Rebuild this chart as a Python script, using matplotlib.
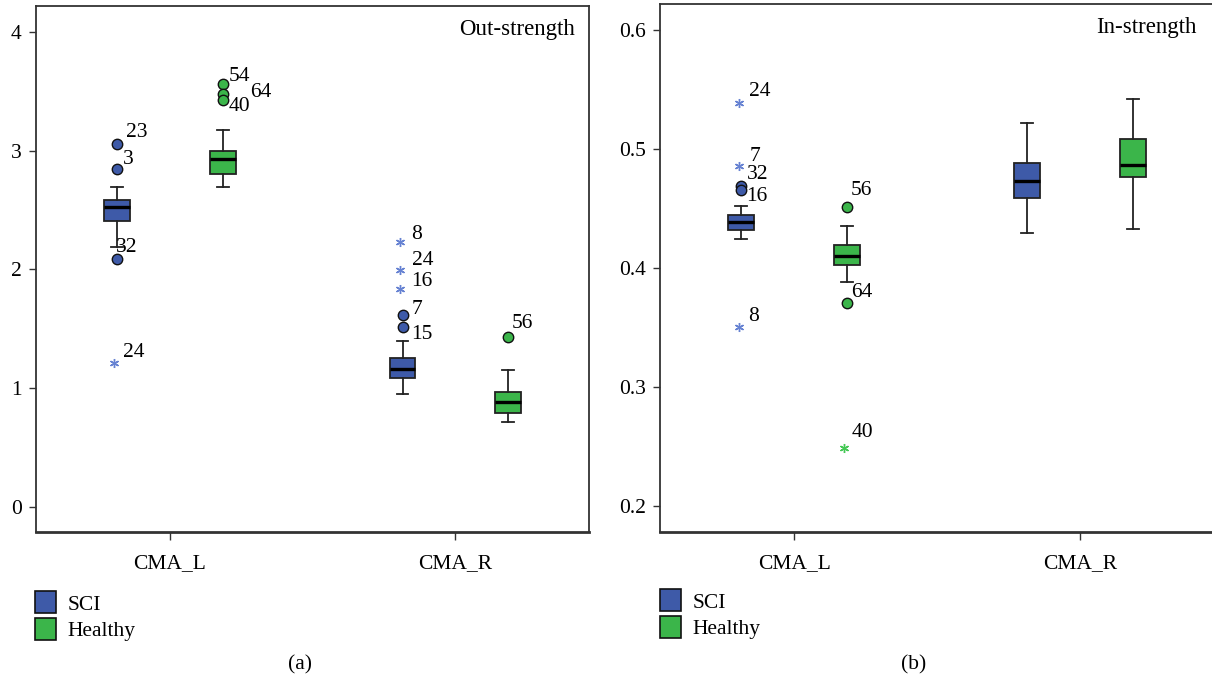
import matplotlib
matplotlib.use('Agg')
import matplotlib.pyplot as plt
from matplotlib.patches import Patch

plt.rcParams['font.family'] = ['Liberation Serif', 'DejaVu Serif']

groups = ['CMA_L', 'CMA_R']
series = ['SCI', 'Healthy']

# 五数概括: 下须, Q1, 中位数, Q3, 上须
out_sci = [[2.192, 2.409, 2.527, 2.580, 2.689], [0.951, 1.088, 1.164, 1.257, 1.400]]
out_healthy = [[2.689, 2.805, 2.925, 2.998, 3.175], [0.713, 0.791, 0.881, 0.971, 1.151]]
in_sci = [[0.4247, 0.4323, 0.4385, 0.4449, 0.4524], [0.4291, 0.4586, 0.4732, 0.4884, 0.5215]]
in_healthy = [[0.3883, 0.4026, 0.4104, 0.4197, 0.4354], [0.4332, 0.4764, 0.4862, 0.5084, 0.5418]]

# 离群值(圆点)和极端值(星号)，以及编号
out_sci_circ = [[3.057, 2.844, 2.091], [1.614, 1.516]]
out_sci_circ_id = [[23, 3, 32], [7, 15]]
out_sci_star = [[1.210], [2.229, 1.996, 1.838]]
out_sci_star_id = [[24], [8, 24, 16]]
out_healthy_circ = [[3.560, 3.479, 3.422], [1.431]]
out_healthy_circ_id = [[54, 64, 40], [56]]
out_healthy_star = [[], []]
out_healthy_star_id = [[], []]

in_sci_circ = [[0.4690, 0.4656], []]
in_sci_circ_id = [[32, 16], []]
in_sci_star = [[0.5389, 0.4855, 0.3505], []]
in_sci_star_id = [[24, 7, 8], []]
in_healthy_circ = [[0.4516, 0.3707], []]
in_healthy_circ_id = [[56, 64], []]
in_healthy_star = [[0.2491], []]
in_healthy_star_id = [[40], []]

# 编号文字的偏移(像素)
out_sci_circ_off = [[(9, 11), (6, 10), (-1, 11)], [(9, 6), (9, -8)]]
out_sci_star_off = [[(6, 11)], [(9, 8), (9, 9), (9, 7)]]
out_healthy_circ_off = [[(6, 8), (28, 1), (6, -6)], [(4, 13)]]
out_healthy_star_off = [[], []]
in_sci_circ_off = [[(5, 11), (5, -7)], []]
in_sci_star_off = [[(8, 11), (8, 10), (7, 11)], []]
in_healthy_circ_off = [[(4, 16), (4, 10)], []]
in_healthy_star_off = [[(5, 15)], []]

box_colors = ['#3e5aa8', '#3bb54a']
star_colors = ['#6682d2', '#44c854']
shift = [-0.185, 0.185]
fs = 15.5


def draw_panel(ax, stats_list, circ_list, circ_ids, circ_offs, star_list, star_ids, star_offs):
    for k in range(2):
        pos = [i + shift[k] for i in range(len(groups))]
        stats = []
        for s in stats_list[k]:
            stats.append({'whislo': s[0], 'q1': s[1], 'med': s[2], 'q3': s[3], 'whishi': s[4], 'fliers': []})
        ax.bxp(stats, positions=pos, widths=0.091, capwidths=0.042, patch_artist=True, showfliers=False,
               boxprops=dict(facecolor=box_colors[k], edgecolor='#222222', linewidth=1.3),
               medianprops=dict(color='black', linewidth=2.4),
               whiskerprops=dict(color='#222222', linewidth=1.3),
               capprops=dict(color='#222222', linewidth=1.3))
        for i in range(len(groups)):
            xs = pos[i]
            for v, n, off in zip(circ_list[k][i], circ_ids[k][i], circ_offs[k][i]):
                ax.plot(xs, v, 'o', ms=7.5, mfc=box_colors[k], mec='#111111', mew=1.0, zorder=4)
                ax.annotate(str(n), (xs, v), xytext=off, textcoords='offset pixels',
                            ha='left', va='center', fontsize=fs)
            for v, n, off in zip(star_list[k][i], star_ids[k][i], star_offs[k][i]):
                ax.plot(xs - 0.01, v, marker=(6, 2, 0), ms=6.5, color=star_colors[k], mew=1.0, ls='none', zorder=4)
                ax.annotate(str(n), (xs, v), xytext=off, textcoords='offset pixels',
                            ha='left', va='center', fontsize=fs)
    ax.set_xlim(-0.47, 1.468)
    ax.set_xticks(range(len(groups)))
    ax.set_xticklabels(groups, fontsize=fs)
    ax.tick_params(axis='x', length=6, width=1, pad=10, color='#333333')
    ax.tick_params(axis='y', length=5, width=1, pad=5, labelsize=fs, color='#333333')
    for sp in ax.spines.values():
        sp.set_color('#333333')
        sp.set_linewidth(1.3)
    ax.spines['bottom'].set_linewidth(2)


fig = plt.figure(figsize=(12.12, 6.8), dpi=100)
W, H = 1212, 680
ax1 = fig.add_axes([35.5 / W, 1 - 532 / H, 553.5 / W, 526.5 / H])
ax2 = fig.add_axes([660 / W, 1 - 531.7 / H, 553.5 / W, 527.7 / H])

draw_panel(ax1, [out_sci, out_healthy],
           [out_sci_circ, out_healthy_circ], [out_sci_circ_id, out_healthy_circ_id],
           [out_sci_circ_off, out_healthy_circ_off],
           [out_sci_star, out_healthy_star], [out_sci_star_id, out_healthy_star_id],
           [out_sci_star_off, out_healthy_star_off])
ax1.set_ylim(-0.211, 4.221)
ax1.set_yticks([0, 1, 2, 3, 4])
ax1.text(0.975, 0.955, 'Out-strength', transform=ax1.transAxes, ha='right', va='center', fontsize=16.5)

draw_panel(ax2, [in_sci, in_healthy],
           [in_sci_circ, in_healthy_circ], [in_sci_circ_id, in_healthy_circ_id],
           [in_sci_circ_off, in_healthy_circ_off],
           [in_sci_star, in_healthy_star], [in_sci_star_id, in_healthy_star_id],
           [in_sci_star_off, in_healthy_star_off])
ax2.set_ylim(0.1786, 0.6218)
ax2.set_yticks([0.2, 0.3, 0.4, 0.5, 0.6])
ax2.set_yticklabels(['0.2', '0.3', '0.4', '0.5', '0.6'])
ax2.text(0.97, 0.955, 'In-strength', transform=ax2.transAxes, ha='right', va='center', fontsize=16.5)

handles = [Patch(facecolor=box_colors[0], edgecolor='#111111', linewidth=1.2),
           Patch(facecolor=box_colors[1], edgecolor='#111111', linewidth=1.2)]
for x0, y0 in [(31 / W, 1 - 587 / H), (656 / W, 1 - 585 / H)]:
    fig.legend(handles, series, loc='upper left', bbox_to_anchor=(x0, y0), frameon=False,
               fontsize=fs, handlelength=0.95, handleheight=1.2, handletextpad=0.55,
               labelspacing=0.15, borderaxespad=0, borderpad=0.2)

fig.text(300 / W, 1 - 665 / H, '(a)', ha='center', va='center', fontsize=fs)
fig.text(914 / W, 1 - 665 / H, '(b)', ha='center', va='center', fontsize=fs)

fig.savefig('out.png', dpi=100)
